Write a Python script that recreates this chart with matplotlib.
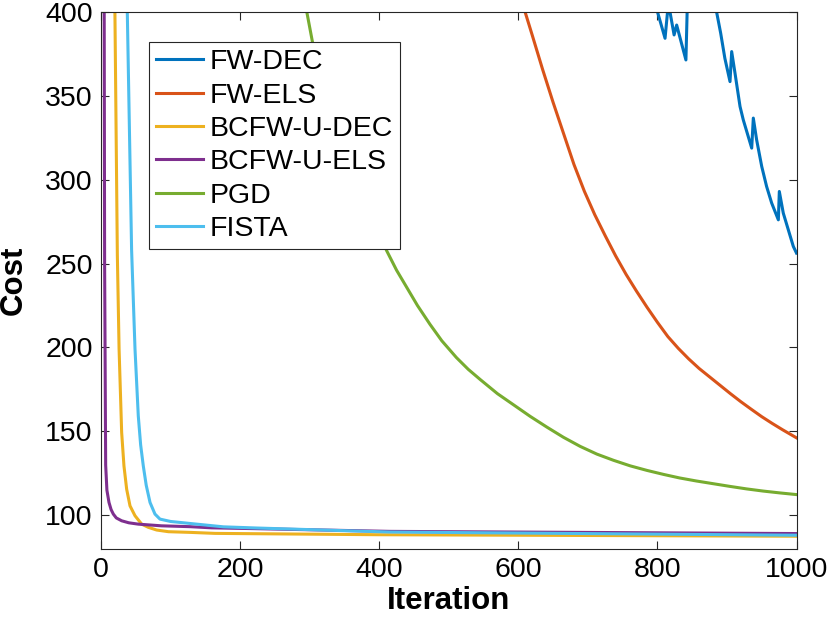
import matplotlib
matplotlib.use("Agg")
import matplotlib.pyplot as plt

# ---- data ----
fw_dec_x = [780, 800, 811, 815.5, 818, 824, 827.7, 841, 844, 864, 882, 885, 891, 897, 904.4, 906.8,
            911.6, 918.8, 923.5, 935.6, 937.9, 942.7, 950, 957, 964.3, 973.9, 975.3, 981, 988.2, 995.4, 1000]
fw_dec_y = [440, 400, 384.1, 404, 400, 386.1, 392, 371.2, 420, 470, 410, 400, 387.1, 372.2, 358.3, 376.2,
            363.3, 343.5, 335.5, 318.7, 336.6, 323.6, 307.8, 295.9, 286, 276, 292.9, 280, 270.1, 260.2, 256.2]

fw_els_x = [600, 609.6, 620, 635, 650, 665, 680, 695, 710, 725, 740, 755, 770, 785, 800, 815, 830, 845,
            860, 875, 890, 905, 920, 935, 950, 965, 980, 1000]
fw_els_y = [413, 400, 386, 365.5, 346, 327.5, 309, 293, 279, 266.5, 254.5, 243.5, 233.5, 224, 215, 206.5,
            199.5, 193.2, 187.5, 182.5, 177.5, 172.5, 167.7, 163.2, 158.8, 154.8, 151, 146.2]

bcfw_dec_x = [15, 20, 23.5, 26, 29.7, 33, 36.9, 41.7, 48.9, 58.5, 68, 80, 97, 128, 164, 400, 1000]
bcfw_dec_y = [700, 400, 255, 199, 149.4, 129.5, 115.6, 105.7, 99.8, 94.8, 92.9, 91.3, 90.3, 89.9, 89.3, 88.5, 87.6]

bcfw_els_x = [3, 4.6, 5.2, 6.7, 8.5, 11.5, 14.5, 17.7, 22, 29.7, 40, 53.6, 87, 128, 159, 224, 319, 415, 1000]
bcfw_els_y = [1000, 400, 250, 130, 115, 107.7, 103.5, 100.8, 98.5, 96.8, 95.6, 94.8, 93.8, 93.3, 92.6, 92.1,
              91.3, 90.5, 89.2]

pgd_x = [280, 295.8, 304, 320, 345, 370, 395, 411, 425, 440, 455, 473, 490, 511, 528, 545, 570, 593, 617,
         641, 665, 689, 713, 737, 761, 785, 809, 832, 856, 880, 904, 928, 952, 976, 1000]
pgd_y = [440, 400, 382, 355, 322, 295, 272, 257.4, 246, 235.5, 225, 213.8, 204, 194, 187, 181, 172.5, 165.9,
         159, 152.6, 146.5, 141.1, 136.5, 132.8, 129.5, 126.8, 124.4, 122.3, 120.5, 118.9, 117.3, 115.8,
         114.5, 113.4, 112.4]

fista_x = [30, 37.8, 44, 48.9, 53.6, 57, 60.8, 65, 70.5, 77.6, 84.8, 100, 128, 176, 224, 319, 415, 1000]
fista_y = [700, 400, 258, 199, 159.3, 142, 129.5, 118, 107.7, 100.8, 97.8, 96.4, 95.2, 93.2, 92.5, 91.3,
           90.1, 88.2]

labels = ["FW-DEC", "FW-ELS", "BCFW-U-DEC", "BCFW-U-ELS", "PGD", "FISTA"]
colors = ["#0072BD", "#D95319", "#EDB120", "#7E2F8E", "#77AC30", "#4DBEEE"]
xticks = [0, 200, 400, 600, 800, 1000]
yticks = [100, 150, 200, 250, 300, 350, 400]

plt.rcParams['font.family'] = ['Liberation Sans', 'DejaVu Sans']

fig = plt.figure(figsize=(8.3, 6.3), dpi=100)
ax = fig.add_axes([101/830, 81/630, 695.5/830, 537.4/630])

series = [(fw_dec_x, fw_dec_y), (fw_els_x, fw_els_y), (bcfw_dec_x, bcfw_dec_y),
          (bcfw_els_x, bcfw_els_y), (pgd_x, pgd_y), (fista_x, fista_y)]
for (xs, ys), lab, c in zip(series, labels, colors):
    ax.plot(xs, ys, color=c, lw=2.2, label=lab, solid_joinstyle='round')

ax.set_xlim(0, 1000)
ax.set_ylim(80, 400)
ax.set_xticks(xticks)
ax.set_yticks(yticks)
ax.tick_params(direction='in', length=6, width=0.8, top=True, right=True,
               labelsize=20.5, colors='#262626', labelcolor='black', pad=6)
for s in ax.spines.values():
    s.set_color('#262626')
    s.set_linewidth(0.8)

ax.set_xlabel("Iteration", fontsize=22.5, fontweight='bold', labelpad=2)
ax.set_ylabel("Cost", fontsize=22.5, fontweight='bold')
ax.yaxis.set_label_coords(-0.1035, 0.5)

leg = ax.legend(loc='upper left', bbox_to_anchor=(0.069, 0.9434), borderaxespad=0,
                fontsize=20.5, frameon=True, fancybox=False, framealpha=1,
                handlelength=1.65, handletextpad=0.22, labelspacing=0.26,
                borderpad=0.25)
leg.get_frame().set_edgecolor('#262626')
leg.get_frame().set_linewidth(0.8)

fig.savefig("out.png", dpi=100)
